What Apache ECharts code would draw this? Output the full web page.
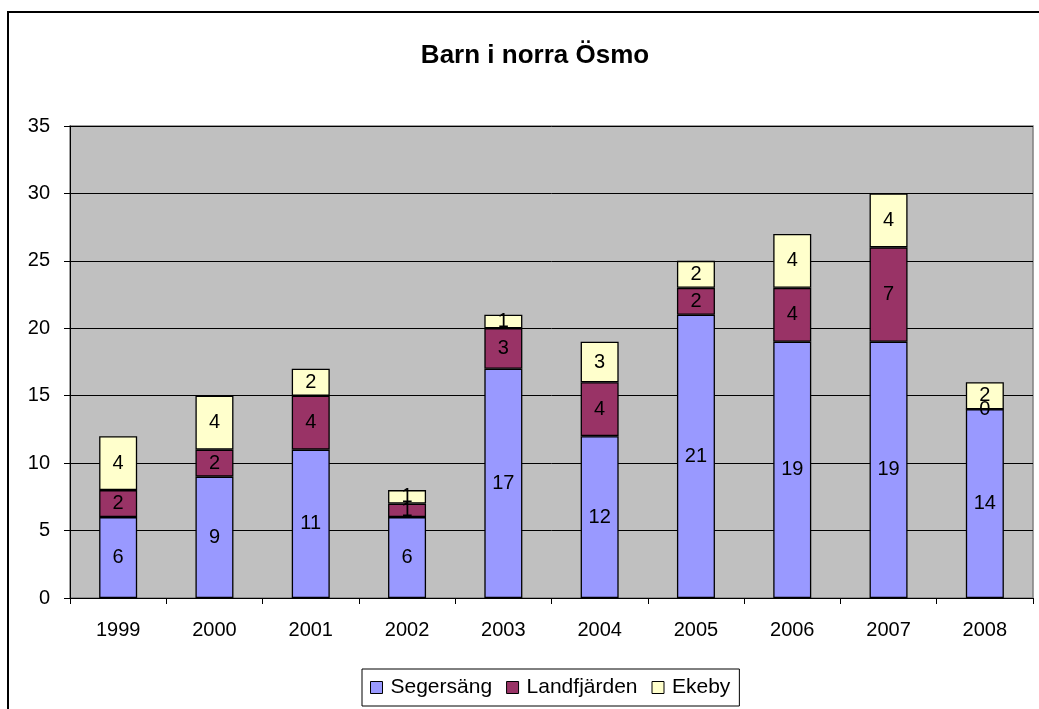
<!DOCTYPE html>
<html><head><meta charset="utf-8">
<script src="https://cdn.jsdelivr.net/npm/echarts@6/dist/echarts.min.js"></script>
<style>html,body{margin:0;padding:0;background:#fff}#c{width:1039px;height:709px}</style>
</head><body><div id="c"></div>
<script>
const categories = ['1999','2000','2001','2002','2003','2004','2005','2006','2007','2008'];
const segersang = [6,9,11,6,17,12,21,19,19,14];
const landfjarden = [2,2,4,1,3,4,2,4,7,0];
const ekeby = [4,4,2,1,1,3,2,4,4,2];
const seriesNames = ['Segersäng','Landfjärden','Ekeby'];
const colors = ['#9999FF','#993366','#FFFFCC'];
const font = 'Liberation Sans, Arial, sans-serif';
const chart = echarts.init(document.getElementById('c'), null, {renderer:'canvas'});
const mk = (name, data, color) => ({
  name, type:'bar', stack:'total', data, barWidth:38,
  itemStyle:{color, borderColor:'#000', borderWidth:1.3},
  label:{show:true, position:'inside', color:'#000', fontFamily:font, fontSize:20, formatter:p=>String(p.value)},
  emphasis:{disabled:true}
});
chart.setOption({
  animation:false,
  backgroundColor:'#fff',
  graphic:[{type:'rect', shape:{x:8,y:12,width:1040,height:710}, style:{fill:'none', stroke:'#000', lineWidth:2}, z:-1}],
  title:{text:'Barn i norra Ösmo', left:530, textAlign:'center', top:38, textStyle:{fontFamily:font, fontSize:26, fontWeight:'bold', color:'#000'}},
  grid:{left:70, top:126, right:6, bottom:111, show:true, backgroundColor:'#C0C0C0', borderColor:'#808080', borderWidth:1.5},
  legend:{top:669, left:362, itemWidth:12, itemHeight:12, itemGap:14, padding:[8,9,8,8],
    borderColor:'#000', borderWidth:1, icon:'rect',
    textStyle:{fontFamily:font, fontSize:21, color:'#000', padding:[0,0,0,3]},
    data:seriesNames.map((n,i)=>({name:n, itemStyle:{color:colors[i], borderColor:'#000', borderWidth:1}}))},
  xAxis:{type:'category', data:categories,
    axisLine:{lineStyle:{color:'#000', width:1}},
    axisTick:{show:true, alignWithLabel:false, length:6, lineStyle:{color:'#000'}},
    axisLabel:{fontFamily:font, fontSize:20, color:'#000', margin:22}},
  yAxis:{type:'value', min:0, max:35, interval:5,
    axisLine:{show:true, lineStyle:{color:'#000'}},
    axisTick:{show:true, length:6, lineStyle:{color:'#000'}},
    axisLabel:{fontFamily:font, fontSize:20, color:'#000', margin:20},
    splitLine:{lineStyle:{color:'#000', width:1}}},
  series:[mk(seriesNames[0], segersang, colors[0]), mk(seriesNames[1], landfjarden, colors[1]), mk(seriesNames[2], ekeby, colors[2])]
});
</script></body></html>
